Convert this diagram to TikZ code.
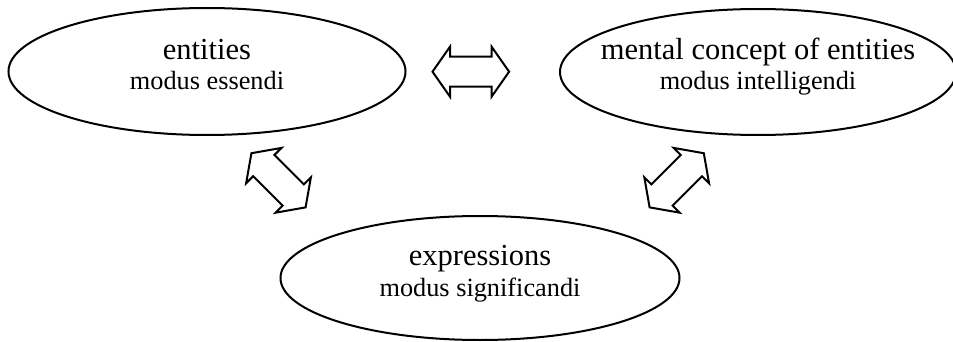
\documentclass[tikz,border=0pt]{standalone}
\usepackage{fontspec}
\setmainfont{Liberation Serif}
\usetikzlibrary{shapes.geometric}
\tikzset{
  oval/.style={draw=black, line width=2pt, ellipse, inner sep=0pt},
  bigline/.style={font=\fontsize{30.5}{32}\selectfont, anchor=base, inner sep=0pt},
  smallline/.style={font=\fontsize{26.3}{28}\selectfont, anchor=base, inner sep=0pt},
  dblarrow/.style={draw=black, line width=2pt, line join=miter, fill=white},
}
\newcommand{\dblarrowpath}{(-38.3,0) -- (-20.8,25) -- (-20.8,15) -- (20.8,15) -- (20.8,25) -- (38.3,0) -- (20.8,-25) -- (20.8,-15) -- (-20.8,-15) -- (-20.8,-25) -- cycle}
\begin{document}
\begin{tikzpicture}[x=1pt,y=-1pt]
\useasboundingbox (0,0) rectangle (953,342);
% ellipses
\node[oval, minimum width=397pt, minimum height=127pt] (ent) at (207,71.5) {};
\node[oval, minimum width=396pt, minimum height=126pt] (men) at (758,72) {};
\node[oval, minimum width=399pt, minimum height=124pt] (exp) at (480,278) {};
% texts
\node[bigline] (entA) at (207,60) {entities};
\node[smallline] (entB) at (207,90) {modus essendi};
\node[bigline] (menA) at (758,60) {mental concept of entities};
\node[smallline] (menB) at (758,90) {modus intelligendi};
\node[bigline] (expA) at (480,265.5) {expressions};
\node[smallline] (expB) at (480,296.7) {modus significandi};
% double arrows
\coordinate (h) at (470.8,71.7);
\coordinate (dl) at (278.5,180.3);
\coordinate (dr) at (676.7,180.3);
\draw[dblarrow, shift={(h)}] \dblarrowpath;
\draw[dblarrow, shift={(dl)}, rotate=-45] \dblarrowpath;
\draw[dblarrow, shift={(dr)}, rotate=45] \dblarrowpath;
\end{tikzpicture}
\end{document}
